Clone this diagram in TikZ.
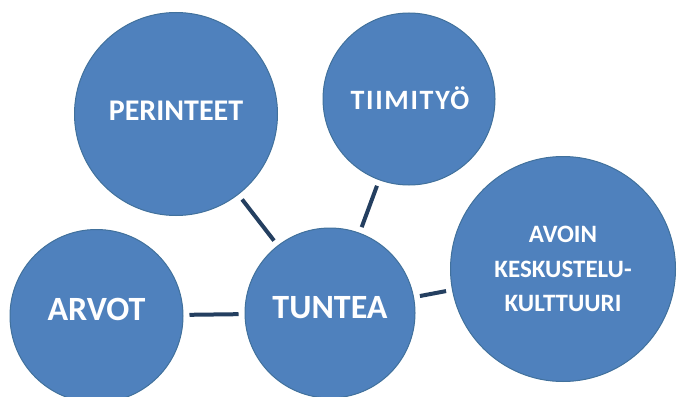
\documentclass[tikz,border=0pt]{standalone}
\usepackage{fontspec}
\setmainfont{Carlito}
\definecolor{bubblefill}{HTML}{4F81BD}
\definecolor{bubbleedge}{HTML}{41719C}
\definecolor{linkcol}{HTML}{243F60}
\tikzset{
  bubble/.style={circle, fill=bubblefill, draw=bubbleedge, line width=1pt,
    inner sep=0pt},
  caption/.style={text=white, font=\bfseries, align=center, inner sep=0pt},
  link/.style={draw=linkcol, line width=4pt, shorten <=6pt, shorten >=6pt}
}
\begin{document}
\begin{tikzpicture}[x=1pt,y=1pt]
  \useasboundingbox (0,0) rectangle (679,-396);
  % concept bubbles
  \node[bubble, minimum size=203pt,
    label={[caption, yshift=3pt, font=\bfseries\fontsize{30}{32}\selectfont]center:PERINTEET}]
    (per) at (176,-114) {};
  \node[bubble, minimum size=172pt,
    label={[caption, yshift=1pt, xshift=1pt, font=\bfseries\fontsize{28}{30}\selectfont\addfontfeature{LetterSpace=6}]center:TIIMITYÖ}]
    (tii) at (409,-99) {};
  \node[bubble, minimum size=173pt,
    label={[caption, yshift=7pt, font=\bfseries\fontsize{34}{36}\selectfont]center:ARVOT}]
    (arv) at (96.5,-316) {};
  \node[bubble, minimum size=170pt,
    label={[caption, yshift=5pt, font=\bfseries\fontsize{34}{36}\selectfont]center:TUNTEA}]
    (tun) at (330,-313) {};
  \node[bubble, minimum size=225pt,
    label={[caption, font=\bfseries\fontsize{25}{34.5}\selectfont]center:AVOIN\\KESKUSTELU-\\KULTTUURI}]
    (avo) at (563,-269) {};
  % connectors to the central bubble
  \draw[link] (per) -- (tun);
  \draw[link] (tii) -- (tun);
  \draw[link] (arv) -- (tun);
  \draw[link] (tun) -- (avo);
\end{tikzpicture}
\end{document}
